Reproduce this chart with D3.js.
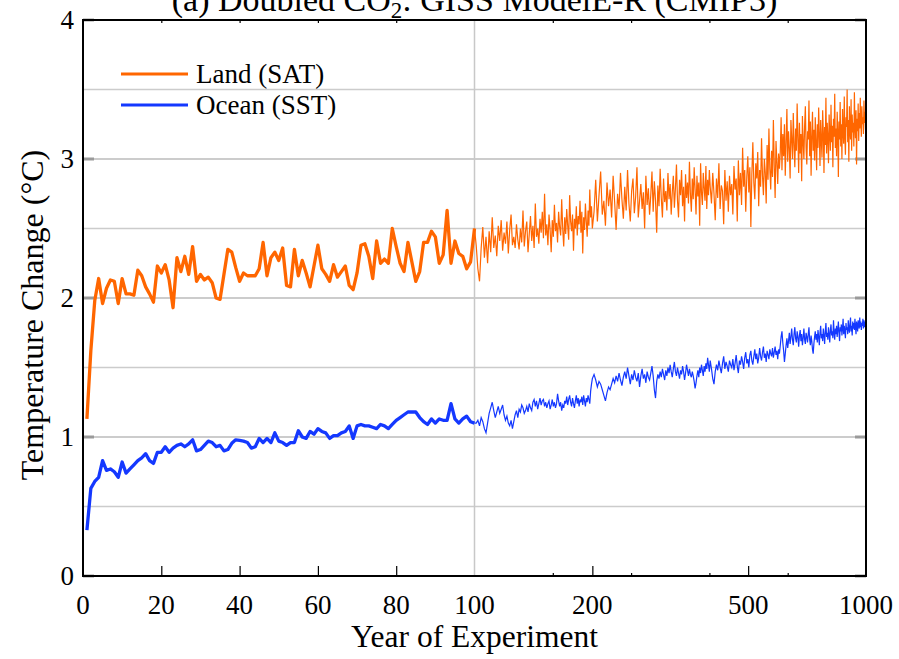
<!DOCTYPE html>
<html>
<head>
<meta charset="utf-8">
<script src="https://cdn.jsdelivr.net/npm/d3@7/dist/d3.min.js"></script>
<style>
  body { margin: 0; background: #fff; }
  text { font-family: "Liberation Serif", "Times New Roman", serif; fill: #000; }
</style>
</head>
<body>
<svg id="chart" width="899" height="659"></svg>
<script>
// years 1..100, one value a year
var landEarly = [1.13,1.62,1.98,2.14,1.96,2.07,2.13,2.12,1.96,2.14,
  2.03,2.03,2.02,2.20,2.16,2.08,2.03,1.97,2.23,2.18,
  2.24,2.13,1.93,2.29,2.19,2.30,2.17,2.37,2.12,2.17,
  2.13,2.15,2.11,2.00,1.99,2.17,2.35,2.33,2.22,2.12,
  2.18,2.16,2.16,2.16,2.21,2.40,2.16,2.29,2.33,2.27,
  2.36,2.09,2.08,2.35,2.16,2.27,2.18,2.08,2.23,2.38,
  2.21,2.17,2.12,2.24,2.15,2.19,2.23,2.09,2.06,2.18,
  2.38,2.39,2.30,2.14,2.41,2.25,2.28,2.25,2.50,2.37,
  2.25,2.19,2.40,2.26,2.12,2.19,2.40,2.40,2.48,2.44,
  2.25,2.31,2.63,2.25,2.41,2.32,2.30,2.21,2.26,2.50]
var oceanEarly = [0.33,0.63,0.68,0.71,0.83,0.76,0.77,0.75,0.71,0.82,
  0.74,0.77,0.80,0.83,0.85,0.88,0.83,0.81,0.89,0.89,
  0.93,0.89,0.92,0.94,0.95,0.93,0.95,0.98,0.90,0.91,
  0.94,0.97,0.96,0.93,0.94,0.90,0.91,0.955,0.98,0.975,
  0.97,0.96,0.92,0.93,0.99,0.96,0.99,0.96,1.03,0.97,
  0.96,0.94,0.96,0.96,1.045,1.00,0.99,1.04,1.02,1.06,
  1.04,1.03,0.99,1.01,1.01,1.03,1.04,1.08,0.99,1.08,
  1.09,1.08,1.08,1.07,1.06,1.09,1.08,1.06,1.09,1.12,
  1.14,1.16,1.18,1.18,1.18,1.14,1.11,1.09,1.13,1.10,
  1.13,1.12,1.12,1.24,1.13,1.10,1.13,1.15,1.11,1.10]

// years 101..200, one value a year
var landA = [2.38,2.21,2.12,2.36,2.51,2.29,2.44,2.25,2.48,2.33,
  2.58,2.36,2.45,2.30,2.52,2.41,2.56,2.34,2.47,2.39,
  2.55,2.32,2.49,2.60,2.38,2.44,2.36,2.53,2.42,2.35,
  2.50,2.40,2.63,2.37,2.48,2.55,2.33,2.46,2.59,2.41,
  2.52,2.36,2.68,2.44,2.50,2.39,2.57,2.47,2.62,2.43,
  2.75,2.45,2.53,2.38,2.60,2.49,2.33,2.56,2.44,2.67,
  2.48,2.54,2.40,2.62,2.51,2.45,2.71,2.50,2.37,2.58,
  2.46,2.64,2.52,2.42,2.74,2.55,2.48,2.60,2.34,2.57,
  2.50,2.66,2.45,2.59,2.53,2.70,2.47,2.62,2.32,2.58,
  2.49,2.68,2.55,2.44,2.63,2.52,2.78,2.58,2.66,2.50]
var oceanA = [1.10,1.12,1.08,1.14,1.11,1.06,1.03,1.10,1.17,1.21,
  1.25,1.19,1.14,1.18,1.22,1.17,1.20,1.23,1.16,1.12,
  1.15,1.10,1.08,1.12,1.06,1.11,1.16,1.19,1.14,1.20,
  1.18,1.23,1.21,1.17,1.19,1.22,1.18,1.24,1.21,1.19,
  1.25,1.27,1.22,1.26,1.20,1.24,1.28,1.23,1.26,1.27,
  1.22,1.25,1.21,1.24,1.26,1.20,1.23,1.27,1.22,1.25,
  1.21,1.24,1.31,1.26,1.22,1.25,1.19,1.23,1.21,1.26,
  1.24,1.29,1.23,1.27,1.30,1.25,1.22,1.28,1.24,1.21,
  1.26,1.30,1.24,1.28,1.22,1.27,1.25,1.29,1.23,1.30,
  1.26,1.22,1.28,1.25,1.30,1.27,1.24,1.33,1.38,1.42]

// years 202..400, every 2 years
var landB = [2.62,2.85,2.55,2.74,2.91,2.60,2.70,2.52,2.83,2.66,2.78,2.58,2.88,2.69,2.49,2.75,2.64,2.90,2.71,2.57,
  2.80,2.63,2.92,2.68,2.55,2.77,2.86,2.61,2.73,2.94,2.58,2.70,2.82,2.64,2.76,2.50,2.88,2.67,2.79,2.60,
  2.74,2.91,2.62,2.84,2.70,2.47,2.81,2.66,2.93,2.72,2.58,2.86,2.69,2.77,2.63,2.90,2.71,2.82,2.60,2.76,
  2.88,2.65,2.79,2.96,2.70,2.58,2.85,2.74,2.92,2.66,2.80,2.55,2.89,2.72,2.83,2.68,2.98,2.75,2.62,2.86,
  2.71,2.94,2.78,2.60,2.88,2.73,2.83,2.52,2.97,2.76,2.67,2.90,2.79,2.70,2.95,2.64,2.85,2.74,2.92,2.80]
var oceanB = [1.45,1.41,1.36,1.40,1.38,1.34,1.30,1.26,1.32,1.36,1.34,1.38,1.42,1.39,1.44,1.40,1.46,1.41,1.37,1.43,
  1.47,1.42,1.50,1.44,1.38,1.45,1.41,1.48,1.43,1.40,1.46,1.36,1.44,1.49,1.42,1.45,1.39,1.47,1.43,1.41,
  1.46,1.51,1.44,1.34,1.28,1.40,1.45,1.42,1.47,1.43,1.49,1.45,1.41,1.48,1.44,1.50,1.46,1.52,1.47,1.43,
  1.49,1.54,1.47,1.44,1.50,1.46,1.42,1.48,1.45,1.51,1.47,1.41,1.46,1.52,1.48,1.44,1.49,1.45,1.43,1.47,
  1.44,1.40,1.35,1.39,1.44,1.48,1.43,1.50,1.46,1.52,1.48,1.44,1.51,1.47,1.53,1.49,1.57,1.52,1.47,1.55]

// years 403..1000, every 3 years
var landC = [2.68,2.90,2.75,2.56,2.86,2.72,2.97,2.64,2.81,2.77,2.53,2.92,2.70,2.84,2.62,2.88,2.74,
  2.82,2.60,2.95,2.78,2.86,2.55,2.99,2.74,2.90,2.67,3.08,2.80,2.92,2.62,2.87,3.02,2.76,2.94,2.51,2.89,
  3.12,2.83,2.71,2.97,2.86,3.05,2.66,2.92,2.80,3.15,2.88,2.74,3.00,2.90,2.68,3.10,2.85,3.22,2.93,2.78,
  3.06,2.87,3.28,2.95,2.72,3.13,2.98,2.82,3.04,2.93,
  3.05,3.30,2.92,3.18,3.02,3.25,2.88,3.12,3.36,2.98,
  3.20,3.08,2.86,3.28,3.14,3.00,3.33,3.10,2.94,3.22,
  3.06,3.40,3.15,2.90,3.26,3.04,3.18,2.84,3.31,3.12,
  3.00,3.24,3.38,3.08,2.96,3.20,3.14,3.42,3.02,3.27,
  2.88,3.16,3.34,3.06,3.21,2.99,3.30,3.11,2.92,3.25,
  3.08,3.37,3.17,2.95,3.28,3.13,3.01,3.35,3.19,2.90,
  3.23,3.10,3.44,3.04,3.26,3.15,2.97,3.32,3.18,3.06,
  3.39,3.12,3.24,2.94,3.29,3.16,3.47,3.08,3.22,3.02,
  3.34,3.19,2.87,3.27,3.14,3.41,3.09,3.25,3.00,3.36,
  3.20,3.11,3.45,3.17,3.03,3.30,3.23,3.50,3.12,3.28,
  2.98,3.38,3.21,3.14,3.43,3.06,3.32,3.19,3.26,3.09,
  3.48,3.24,3.15,3.35,2.96,3.29,3.20,3.40,3.13,3.33,
  3.22,3.44,3.27,3.16,3.38,3.25,3.30,3.18,3.42,3.26,
  3.34,3.21,3.37]
var oceanC = [1.49,1.42,1.38,1.47,1.52,1.48,1.55,1.50,1.46,1.53,1.58,1.49,1.54,1.51,1.47,1.55,1.52,
  1.50,1.56,1.48,1.53,1.59,1.51,1.46,1.55,1.52,1.58,
  1.54,1.49,1.57,1.61,1.53,1.56,1.50,1.59,1.62,1.55,
  1.52,1.58,1.63,1.56,1.60,1.53,1.57,1.64,1.58,1.55,
  1.61,1.65,1.57,1.60,1.54,1.62,1.59,1.56,1.63,1.60,
  1.58,1.64,1.57,1.61,1.65,1.59,1.62,1.56,1.63,1.60,
  1.66,1.72,1.76,1.68,1.62,1.54,1.60,1.66,1.71,1.64,
  1.69,1.75,1.67,1.72,1.78,1.70,1.66,1.74,1.79,1.71,
  1.68,1.76,1.72,1.65,1.73,1.77,1.69,1.74,1.66,1.71,
  1.78,1.70,1.67,1.75,1.72,1.68,1.74,1.79,1.70,1.66,
  1.73,1.69,1.63,1.60,1.67,1.72,1.76,1.70,1.74,1.68,
  1.77,1.72,1.66,1.75,1.80,1.71,1.74,1.69,1.78,1.73,
  1.67,1.76,1.82,1.72,1.75,1.70,1.79,1.74,1.68,1.77,
  1.81,1.73,1.76,1.71,1.84,1.75,1.70,1.78,1.74,1.80,
  1.72,1.77,1.83,1.75,1.69,1.79,1.76,1.81,1.73,1.78,
  1.85,1.74,1.80,1.76,1.71,1.82,1.77,1.79,1.74,1.84,
  1.78,1.75,1.81,1.86,1.76,1.80,1.73,1.83,1.78,1.82,
  1.77,1.85,1.79,1.74,1.83,1.80,1.76,1.84,1.81,1.78,
  1.86,1.79,1.83,1.77,1.82,1.80,1.85,1.78,1.84,1.81,
  1.79,1.83,1.80]

var linTicks = [20, 40, 60, 80]
var logMajor = [200, 500]
var logMinor = [2.2, 2.4, 2.6, 2.8].map(function(p){ return Math.pow(10, p) })
var xLabels = [0, 20, 40, 60, 80, 100, 200, 500, 1000]
var yLabels = [0, 1, 2, 3, 4]
var yGrid = [0.5, 1, 1.5, 2, 2.5, 3, 3.5]

var landClr = '#ff6600', oceanClr = '#1438ff'

var svg = d3.select('#chart')
var L = 83, R = 866, T = 20, B = 576, M = (L + R) / 2

var xLin = d3.scaleLinear().domain([0, 100]).range([L, M])
var xLog = d3.scaleLog().domain([100, 1000]).range([M, R])
var x = function(v){ return v <= 100 ? xLin(v) : xLog(v) }
var y = d3.scaleLinear().domain([0, 4]).range([B, T])

// stitch the year axis for each block
var yrsEarly = d3.range(1, 101)
var yrsA = d3.range(101, 201), yrsB = d3.range(202, 401, 2), yrsC = d3.range(403, 1001, 3)
var yrsLate = [100].concat(yrsA, yrsB, yrsC)
var zip = function(xs, ys){ return xs.map(function(v, i){ return [v, ys[i]] }) }

//gridlines
svg.append('g').selectAll('line').data(yGrid).enter().append('line')
  .attr('x1', L).attr('x2', R)
  .attr('y1', function(d){ return y(d) }).attr('y2', function(d){ return y(d) })
  .attr('stroke', function(d){ return d % 1 == 0 ? '#9a9a9a' : '#cccccc' })
  .attr('stroke-width', function(d){ return d % 1 == 0 ? 1.2 : 1.6 })
svg.append('line')
  .attr('x1', x(100)).attr('x2', x(100)).attr('y1', T).attr('y2', B)
  .attr('stroke', '#c8c8c8').attr('stroke-width', 1.5)

// thick gray integer ticks on both sides
var yt = svg.append('g')
yLabels.forEach(function(v){
  yt.append('line').attr('x1', L).attr('x2', L + 11).attr('y1', y(v)).attr('y2', y(v))
    .attr('stroke', '#9a9a9a').attr('stroke-width', 3)
  yt.append('line').attr('x1', R - 11).attr('x2', R).attr('y1', y(v)).attr('y2', y(v))
    .attr('stroke', '#9a9a9a').attr('stroke-width', 3)
})

//plots
var line = d3.line().x(function(d){ return x(d[0]) }).y(function(d){ return y(d[1]) })
svg.append('path').datum(zip(yrsLate, [landEarly[99]].concat(landA, landB, landC)))
  .attr('d', line).attr('fill', 'none').attr('stroke', landClr).attr('stroke-width', 1.2)
svg.append('path').datum(zip(yrsLate, [oceanEarly[99]].concat(oceanA, oceanB, oceanC)))
  .attr('d', line).attr('fill', 'none').attr('stroke', oceanClr).attr('stroke-width', 1.2)
svg.append('path').datum(zip(yrsEarly, landEarly))
  .attr('d', line).attr('fill', 'none').attr('stroke', landClr).attr('stroke-width', 3.3)
  .attr('stroke-linejoin', 'round')
svg.append('path').datum(zip(yrsEarly, oceanEarly))
  .attr('d', line).attr('fill', 'none').attr('stroke', oceanClr).attr('stroke-width', 3.3)
  .attr('stroke-linejoin', 'round')

// x axis ticks, bottom and top
var tickStyle = function(g){
  g.select('.domain').remove()
  g.selectAll('.tick line').attr('stroke', '#000').attr('stroke-width', 1.2)
  g.selectAll('.tick text').remove()
}
svg.append('g').attr('transform', 'translate(0,' + B + ')')
  .call(d3.axisTop(xLin).tickValues(linTicks).tickSize(10)).call(tickStyle)
svg.append('g').attr('transform', 'translate(0,' + B + ')')
  .call(d3.axisTop(xLog).tickValues(logMajor).tickSize(10)).call(tickStyle)
svg.append('g').attr('transform', 'translate(0,' + B + ')')
  .call(d3.axisTop(xLog).tickValues(logMinor).tickSize(3)).call(tickStyle)
svg.append('g').attr('transform', 'translate(0,' + T + ')')
  .call(d3.axisBottom(xLin).tickValues(linTicks).tickSize(3)).call(tickStyle)
svg.append('g').attr('transform', 'translate(0,' + T + ')')
  .call(d3.axisBottom(xLog).tickValues(logMinor).tickSize(3)).call(tickStyle)

// frame
svg.append('rect').attr('x', L).attr('y', T).attr('width', R - L).attr('height', B - T)
  .attr('fill', 'none').attr('stroke', '#000').attr('stroke-width', 2)

// tick labels
svg.append('g').selectAll('text').data(xLabels).enter().append('text')
  .attr('x', function(d){ return x(d) }).attr('y', 614)
  .attr('text-anchor', 'middle').style('font-size', '27px')
  .text(function(d){ return d })
svg.append('g').selectAll('text').data(yLabels).enter().append('text')
  .attr('x', 74).attr('y', function(d){ return y(d) + 9 })
  .attr('text-anchor', 'end').style('font-size', '27px')
  .text(function(d){ return d })

// titles
svg.append('text').attr('x', M).attr('y', 647).attr('text-anchor', 'middle')
  .style('font-size', '31.5px').text('Year of Experiment')
svg.append('text').attr('transform', 'translate(43,315) rotate(-90)')
  .attr('text-anchor', 'middle').style('font-size', '32px').text('Temperature Change (°C)')
var ttl = svg.append('text').attr('x', M).attr('y', 11).attr('text-anchor', 'middle')
  .style('font-size', '34px')
ttl.append('tspan').text('(a)  Doubled CO')
ttl.append('tspan').attr('dy', 7).style('font-size', '23px').text('2')
ttl.append('tspan').attr('dy', -7).text(': GISS ModelE-R (CMIP3)')

// legend
var legend = [['Land (SAT)', landClr], ['Ocean (SST)', oceanClr]]
legend.forEach(function(d, i){
  var ly = 74 + i * 31
  svg.append('line').attr('x1', 121).attr('x2', 188).attr('y1', ly).attr('y2', ly)
    .attr('stroke', d[1]).attr('stroke-width', 3)
  svg.append('text').attr('x', 196).attr('y', ly + 9).style('font-size', '27px').text(d[0])
})
</script>
</body>
</html>
